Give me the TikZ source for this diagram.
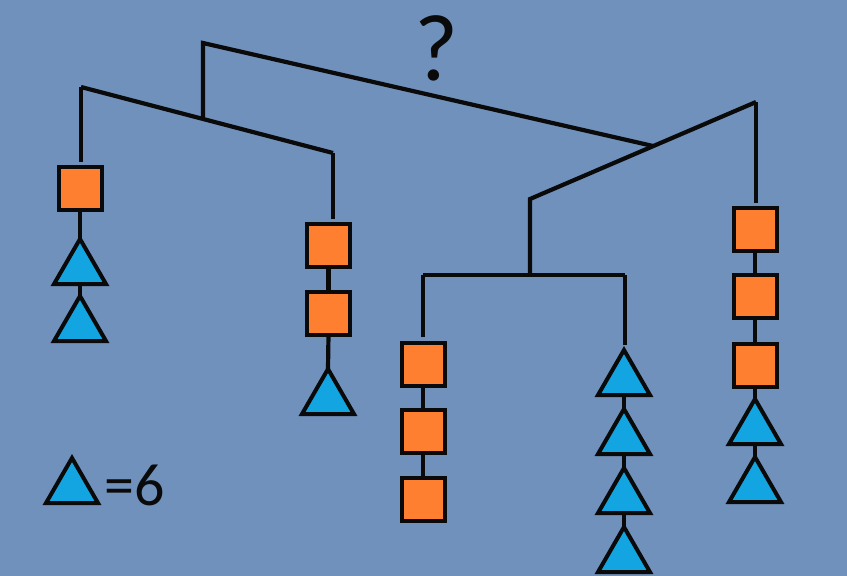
\documentclass[tikz,border=0pt]{standalone}
\usepackage{fontspec}
\setmainfont{Carlito}
\usetikzlibrary{shapes.geometric}
\definecolor{bg}{RGB}{112,145,187}
\definecolor{sqorange}{RGB}{255,127,48}
\definecolor{triblue}{RGB}{18,165,226}
\definecolor{ink}{RGB}{10,10,10}
\tikzset{
  beam/.style={draw=ink, line width=4.2pt, line join=miter},
  link/.style={draw=ink, line width=4.2pt},
  sqbox/.style={rectangle, draw=ink, fill=sqorange, line width=4pt, minimum size=43pt, inner sep=0pt, outer sep=0pt},
  tribox/.style={regular polygon, regular polygon sides=3, draw=ink, fill=triblue, line width=4pt, minimum size=60pt, inner sep=0pt, outer sep=0pt},
  hook/.style={shorten >=5.5pt}
}
\begin{document}
\begin{tikzpicture}[x=1pt,y=-1pt]
\fill[bg] (0,0) rectangle (847,576);
\useasboundingbox (0,0) rectangle (847,576);
% coordinates of the beams
\coordinate (ttop) at (203,43);
\coordinate (tjoin) at (203,119);
\coordinate (tend) at (653,146);
\coordinate (LA) at (81,87);
\coordinate (LB) at (333,153);
\coordinate (RA) at (530,199);
\coordinate (RB) at (756,102);
\coordinate (RD) at (530,275);
\coordinate (HL) at (423,275);
\coordinate (HR) at (625,275);
% column A
\node[sqbox] (A1) at (80,188.5) {};
\node[tribox] (A2) at (80,269) {};
\node[tribox] (A3) at (80,326) {};
% column B
\node[sqbox] (B1) at (328.5,245.5) {};
\node[sqbox] (B2) at (328.5,313) {};
\node[tribox] (B3) at (328,399) {};
% column C
\node[sqbox] (C1) at (423,364) {};
\node[sqbox] (C2) at (423,431) {};
\node[sqbox] (C3) at (423,499.5) {};
% column D
\node[tribox] (D1) at (624,380) {};
\node[tribox] (D2) at (624,439) {};
\node[tribox] (D3) at (624,498) {};
\node[tribox] (D4) at (624,557) {};
% column E
\node[sqbox] (E1) at (755,229.5) {};
\node[sqbox] (E2) at (755,296.5) {};
\node[sqbox] (E3) at (755,365) {};
\node[tribox] (E4) at (755,429) {};
\node[tribox] (E5) at (755,487) {};
% legend
\node[tribox] (L1) at (72,488) {};
\node[anchor=base west, inner sep=0pt, text=ink, font=\fontsize{60}{60}\selectfont] (L2) at (104,505) {=6};
\node[anchor=base, inner sep=0pt, text=ink, font=\fontsize{95}{95}\selectfont] (Q) at (436.5,80) {?};
% beams
\draw[beam] (tjoin) -- (ttop) -- (tend);
\draw[beam, hook] (LA) -- (LA |- A1.north);
\draw[beam] (LA) -- (LB);
\draw[beam, hook] (LB) -- (LB |- B1.north);
\draw[beam] (RD) -- (RA) -- (RB);
\draw[beam, hook] (RB) -- (RB |- E1.north);
\draw[beam] (HL) -- (HR);
\draw[beam, hook] (HL) -- (HL |- C1.north);
\draw[beam, hook] (HR) -- (HR |- D1.north);
% links within columns
\draw[link] (A1.south) -- (A2.north);
\draw[link] (A2.south) -- (A3.north);
\draw[link] (B1.south) -- (B2.north);
\draw[link] (B2.south) -- (B3.north);
\draw[link] (C1.south) -- (C2.north);
\draw[link] (C2.south) -- (C3.north);
\draw[link] (D1.south) -- (D2.north);
\draw[link] (D2.south) -- (D3.north);
\draw[link] (D3.south) -- (D4.north);
\draw[link] (E1.south) -- (E2.north);
\draw[link] (E2.south) -- (E3.north);
\draw[link] (E3.south) -- (E4.north);
\draw[link] (E4.south) -- (E5.north);
\end{tikzpicture}
\end{document}
